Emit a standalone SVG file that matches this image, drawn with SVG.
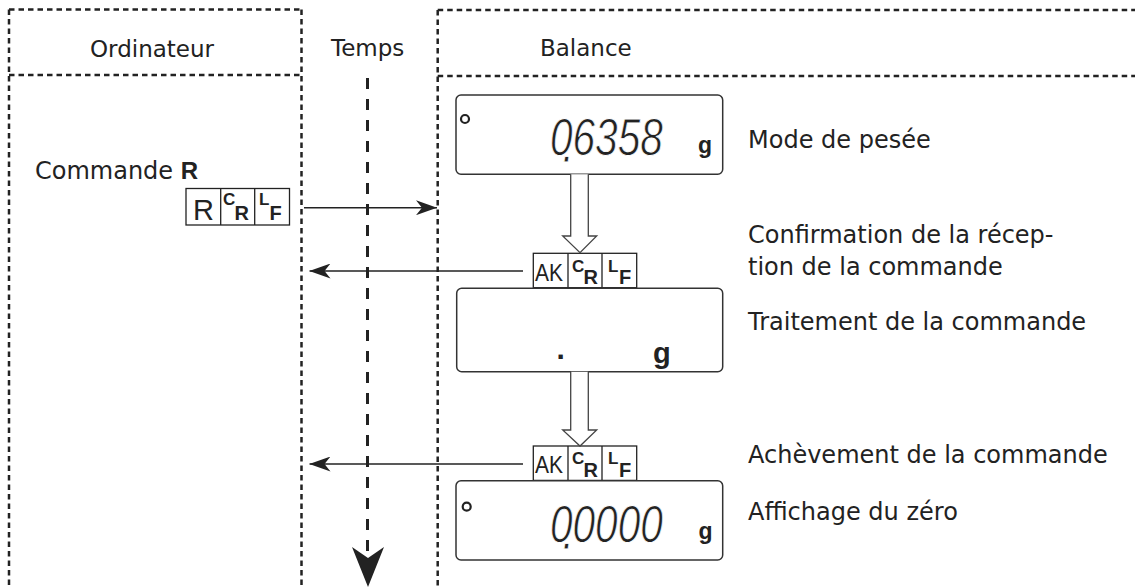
<svg xmlns="http://www.w3.org/2000/svg" width="1135" height="588" viewBox="0 0 1135 588">
<style>
.lbl{font-family:"DejaVu Sans","Liberation Sans",sans-serif;font-size:24px;fill:#222}
.hdr{font-family:"DejaVu Sans","Liberation Sans",sans-serif;font-size:23px;fill:#222}
.dash{fill:none;stroke:#222;stroke-width:2.5;stroke-dasharray:5.5 4}
.disp{fill:#fff;stroke:#333;stroke-width:1.5}
.cell{fill:#fff;stroke:#222;stroke-width:1.3}
.sm{font-family:"Liberation Sans",Arial,sans-serif;font-weight:bold;fill:#222}
.big{font-family:"Liberation Sans",Arial,sans-serif;fill:#222}
.seg{font-family:"Liberation Sans",Arial,sans-serif;font-style:italic;font-size:52px;fill:#222;stroke:#fff;stroke-width:0.8}
.unit{font-family:"Liberation Sans",Arial,sans-serif;font-weight:bold;fill:#222}
.ind{fill:none;stroke:#222;stroke-width:2.2}
.line{fill:none;stroke:#222;stroke-width:1.5}
.hollow{fill:#fff;stroke:#444;stroke-width:1.3}
</style>
<defs>
<marker id="ah" markerUnits="userSpaceOnUse" viewBox="0 0 21 15" markerWidth="21" markerHeight="15" refX="21" refY="7.5" orient="auto">
<path d="M0,0 L21,7.5 L0,15 L6,7.5 z" fill="#222"/>
</marker>
</defs>
<rect width="1135" height="588" fill="#fff"/>

<g id="lane-ordinateur">
<path class="dash" d="M9,9.5 H301.5 M9,75 H301.5 M9,9.5 V588 M301.5,9.5 V588"/>
<text class="hdr" x="90" y="57">Ordinateur</text>
</g>
<g id="lane-temps">
<text class="hdr" x="331" y="56">Temps</text>
</g>
<g id="lane-balance">
<path class="dash" d="M437.7,10 H1135 M437.7,76 H1135 M437.7,10 V588"/>
<text class="hdr" x="540" y="56">Balance</text>
</g>

<g id="cmd-r">
<text class="lbl" x="35" y="179">Commande <tspan font-family="Liberation Sans, Arial, sans-serif" font-weight="bold" font-size="24">R</tspan></text>
<rect class="cell" x="186" y="188.5" width="103.5" height="36.5"/>
<path class="cell" d="M220.7,188.5 V225 M254.7,188.5 V225"/>
<text class="big" x="193" y="220" font-size="29">R</text>
<text class="sm" x="223" y="205" font-size="17">C</text>
<text class="sm" x="234.5" y="220" font-size="20">R</text>
<text class="sm" x="259" y="205" font-size="17">L</text>
<text class="sm" x="269.5" y="220" font-size="20">F</text>
</g>

<g id="display-1">
<rect class="disp" x="456" y="95" width="266.7" height="79.3" rx="5"/>
<circle class="ind" cx="465" cy="119" r="4"/>
<text class="seg" transform="translate(550,155) scale(0.78,1)" x="0" y="0" dx="0 -13 -1.5 0 0 0" dy="0 7 -7 0 0 0">0.6358</text>
<text class="unit" x="698" y="153" font-size="23">g</text>
</g>
<g id="label-1"><text class="lbl" x="748" y="148">Mode de pesée</text></g>

<g id="ack-1">
<rect class="cell" x="533.3" y="253.3" width="103.4" height="34.4"/>
<path class="cell" d="M568,253.3 V287.7 M602,253.3 V287.7"/>
<text class="big" x="535" y="280.7" font-size="24" textLength="28" lengthAdjust="spacingAndGlyphs">AK</text>
<text class="sm" x="572" y="271.7" font-size="17">C</text>
<text class="sm" x="583.5" y="284" font-size="20">R</text>
<text class="sm" x="608" y="271.7" font-size="17">L</text>
<text class="sm" x="619" y="284" font-size="20">F</text>
</g>
<g id="label-2"><text class="lbl" x="748" y="243">Confirmation de la récep-</text><text class="lbl" x="748" y="275">tion de la commande</text></g>

<g id="display-2">
<rect class="disp" x="456.7" y="288.3" width="266" height="83.4" rx="5"/>
<text class="unit" x="556.5" y="359" font-size="30">.</text>
<text class="unit" x="653" y="363" font-size="29">g</text>
</g>
<g id="label-3"><text class="lbl" x="748" y="330">Traitement de la commande</text></g>

<g id="ack-2">
<rect class="cell" x="533.3" y="446" width="103.4" height="34.4"/>
<path class="cell" d="M568,446 V480.4 M602,446 V480.4"/>
<text class="big" x="535" y="473.4" font-size="24" textLength="28" lengthAdjust="spacingAndGlyphs">AK</text>
<text class="sm" x="572" y="464.4" font-size="17">C</text>
<text class="sm" x="583.5" y="476.7" font-size="20">R</text>
<text class="sm" x="608" y="464.4" font-size="17">L</text>
<text class="sm" x="619" y="476.7" font-size="20">F</text>
</g>
<g id="label-4"><text class="lbl" x="748" y="463">Achèvement de la commande</text></g>

<g id="display-3">
<rect class="disp" x="456" y="480.7" width="266.7" height="79.3" rx="5"/>
<circle class="ind" cx="466.7" cy="506.7" r="4"/>
<text class="seg" transform="translate(550,542) scale(0.78,1)" x="0" y="0" dx="0 -13 -1.5 0 0 0" dy="0 7 -7 0 0 0">0.0000</text>
<text class="unit" x="698.5" y="539" font-size="23">g</text>
</g>
<g id="label-5"><text class="lbl" x="748" y="520">Affichage du zéro</text></g>

<g id="connectors">
<path d="M367.5,78 V556" fill="none" stroke="#222" stroke-width="3" stroke-dasharray="11 10"/>
<path d="M368,587 L352,547 L368,558 L384,547 z" fill="#222"/>
<path class="line" d="M304,207.7 H437" marker-end="url(#ah)"/>
<path class="line" d="M523,271 H309.5" marker-end="url(#ah)"/>
<path class="line" d="M523,464 H309.5" marker-end="url(#ah)"/>
<path class="hollow" d="M570.7,174.3 V236 H562.7 L580,252.7 L596.7,236 H588.3 V174.3"/>
<path class="hollow" d="M570.7,371.7 V430 H562.7 L580,446 L596.7,430 H588.3 V371.7"/>
</g>
</svg>
